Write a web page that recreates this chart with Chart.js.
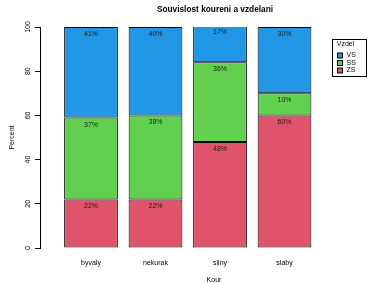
<!DOCTYPE html>
<html>
<head>
<meta charset="utf-8">
<script src="https://cdn.jsdelivr.net/npm/chart.js@4.4.1/dist/chart.umd.min.js"></script>
<style>
  html, body { margin: 0; padding: 0; background: #fff; }
  #wrap { width: 369px; height: 283px; }
</style>
</head>
<body>
<div id="wrap"><canvas id="kourChart" width="369" height="283"></canvas></div>
<script>
// data (percent within each smoking group)
const categories = ['byvaly', 'nekurak', 'silny', 'slaby'];
const zsValues = [22, 22, 48, 60];
const ssValues = [37, 38, 36, 10];
const vsValues = [41, 40, 17, 30];
const yTicks = [0, 20, 40, 60, 80, 100];

const FONT = '"Liberation Sans", Arial, Helvetica, sans-serif';

const toPoints = vals => vals.map((v, i) => ({ x: i, y: v }));

// percent labels just under the top of every segment
const segmentLabels = {
    id: 'segmentLabels',
    afterDatasetsDraw(chart) {
        const ctx = chart.ctx;
        ctx.save();
        ctx.font = '7px ' + FONT;
        ctx.fillStyle = '#222';
        ctx.textAlign = 'center';
        ctx.textBaseline = 'middle';
        chart.data.datasets.forEach((ds, di) => {
            chart.getDatasetMeta(di).data.forEach((bar, i) => {
                ctx.fillText(ds.data[i].y + '%', bar.x, bar.y + 7);
            });
        });
        ctx.restore();
    }
};

// main title, x title and the boxed legend
const extras = {
    id: 'extras',
    afterDraw(chart) {
        const ctx = chart.ctx;
        ctx.save();
        ctx.fillStyle = '#000';
        ctx.textAlign = 'center';
        ctx.textBaseline = 'middle';
        ctx.font = 'bold 8.3px ' + FONT;
        ctx.fillText('Souvislost koureni a vzdelani', 215, 10);
        ctx.font = '7px ' + FONT;
        ctx.fillText('Kour', 214, 280);

        // legend
        ctx.strokeStyle = '#000';
        ctx.lineWidth = 1;
        ctx.strokeRect(332.5, 39.5, 34, 37);
        ctx.fillText('Vzdel', 345.5, 44.5);
        const items = chart.data.datasets.slice().reverse();
        ctx.textAlign = 'left';
        items.forEach((ds, k) => {
            const y = 55.5 + k * 7.5;
            ctx.fillStyle = ds.backgroundColor;
            ctx.fillRect(337.5, y - 2.5, 5, 5);
            ctx.strokeRect(337.5, y - 2.5, 5, 5);
            ctx.fillStyle = '#000';
            ctx.fillText(ds.label, 346.5, y);
        });
        ctx.restore();
    }
};

const barStyle = { borderColor: '#000', borderWidth: 1, borderSkipped: false, inflateAmount: 0 };

new Chart(document.getElementById('kourChart'), {
    type: 'bar',
    data: {
        datasets: [
            Object.assign({ label: 'ZS', data: toPoints(zsValues), backgroundColor: '#DF536B' }, barStyle),
            Object.assign({ label: 'SS', data: toPoints(ssValues), backgroundColor: '#61D04F' }, barStyle),
            Object.assign({ label: 'VS', data: toPoints(vsValues), backgroundColor: '#2297E6' }, barStyle)
        ]
    },
    options: {
        responsive: false,
        animation: false,
        devicePixelRatio: 1,
        barPercentage: 1,
        categoryPercentage: 1 / 1.2,
        layout: { padding: { left: 0, right: 39, top: 27, bottom: 0 } },
        plugins: {
            legend: { display: false },
            title: { display: false },
            tooltip: { enabled: false }
        },
        scales: {
            x: {
                type: 'linear',
                stacked: true,
                offset: false,
                min: -0.7907,
                max: 3.705,
                grid: { display: false, drawTicks: false },
                border: { display: false },
                afterBuildTicks: scale => {
                    scale.ticks = categories.map((c, i) => ({ value: i }));
                },
                afterFit: scale => { scale.height = 35; },
                ticks: {
                    padding: 11,
                    color: '#000',
                    font: { family: FONT, size: 7 },
                    maxRotation: 0,
                    autoSkip: false,
                    callback: v => categories[v]
                }
            },
            y: {
                stacked: true,
                min: 0,
                max: 100,
                afterBuildTicks: scale => {
                    scale.ticks = yTicks.map(v => ({ value: v }));
                },
                afterFit: scale => { scale.width = 40; },
                grid: { drawOnChartArea: false, tickLength: 5, color: '#000', tickColor: '#000' },
                border: { display: true, color: '#000', width: 1 },
                ticks: {
                    color: '#000',
                    font: { family: FONT, size: 7 },
                    minRotation: 90,
                    maxRotation: 90,
                    crossAlign: 'center',
                    padding: 1
                },
                title: {
                    display: true,
                    text: 'Percent',
                    color: '#000',
                    font: { family: FONT, size: 7 },
                    padding: { top: 8, bottom: 0 }
                }
            }
        }
    },
    plugins: [segmentLabels, extras]
});
</script>
</body>
</html>
